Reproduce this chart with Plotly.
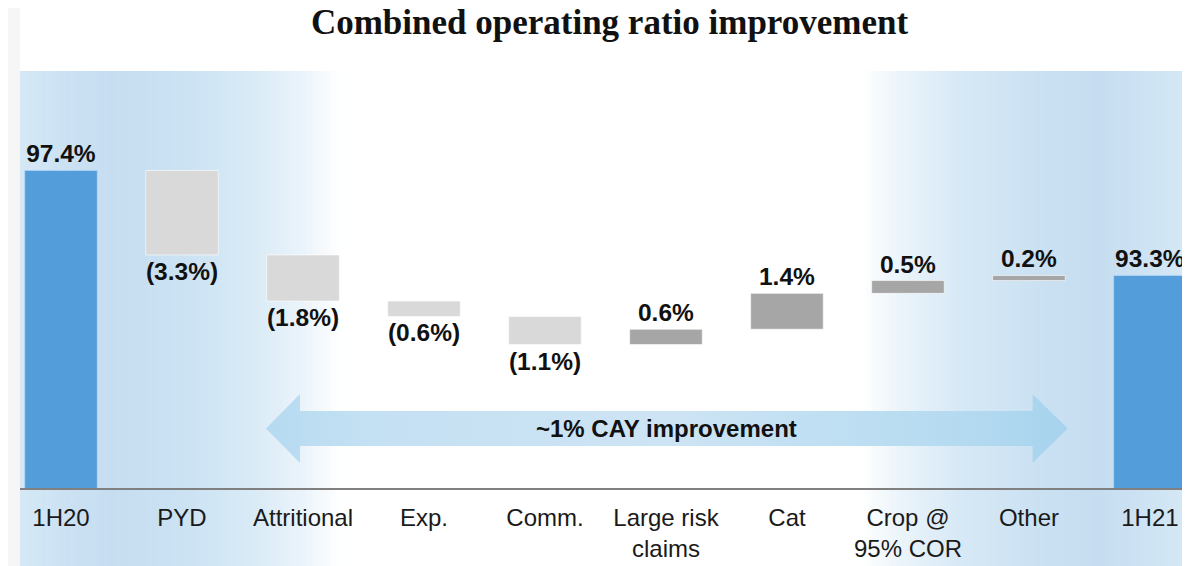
import plotly.graph_objects as go

# ---------------- data ----------------
categories = ["1H20", "PYD", "Attritional", "Exp.", "Comm.",
              "Large risk<br>claims", "Cat", "Crop @<br>95% COR", "Other", "1H21"]
values = [97.4, -3.3, -1.8, -0.6, -1.1, 0.6, 1.4, 0.5, 0.2, 93.3]
measures = ["absolute", "relative", "relative", "relative", "relative",
            "relative", "relative", "relative", "relative", "total"]
value_labels = ["97.4%", "(3.3%)", "(1.8%)", "(0.6%)", "(1.1%)",
                "0.6%", "1.4%", "0.5%", "0.2%", "93.3%"]
title_text = "Combined operating ratio improvement"
arrow_text = "~1% CAY improvement"

# ---------------- styling / layout constants ----------------
OFF = 8                      # browser body margin
W, H = 1190 - OFF, 566 - OFF
ML, MR, MT, MB = 20 - OFF, 0, 71 - OFF, 78
PW, PH = W - ML - MR, H - MT - MB
XR = [-0.339, 9.331]
YR = [85.0, 85.0 + PH / 25.61]

BLUE = "#539ddb"
DEC = "#d9d9d9"
INC = "#a6a6a6"

x_idx = list(range(len(categories)))

fig = go.Figure()


def hex2rgb(h):
    h = h.lstrip("#")
    return tuple(int(h[i:i + 2], 16) for i in (0, 2, 4))


def interp(stops, px):
    for (p0, c0), (p1, c1) in zip(stops, stops[1:]):
        if p0 <= px <= p1:
            t = (px - p0) / (p1 - p0) if p1 > p0 else 0
            a, b = hex2rgb(c0), hex2rgb(c1)
            return "rgb(%d,%d,%d)" % tuple(round(a[i] + (b[i] - a[i]) * t) for i in range(3))
    return stops[-1][1]


# stops in reference-page pixels
left_stops = [(20, "#d5e8f5"), (60, "#cce2f3"), (110, "#c6ddf1"), (180, "#cbe2f3"),
              (250, "#d8eaf6"), (300, "#eaf3fa"), (342, "#ffffff")]
right_stops = [(860, "#ffffff"), (900, "#ebf4fa"), (960, "#d7e9f6"), (1040, "#cae1f2"),
               (1100, "#c6ddf1"), (1190, "#d5e8f5")]

shapes = []
ybot = -MB / PH
for stops in (left_stops, right_stops):
    a, b = stops[0][0], stops[-1][0]
    n = int((b - a) / 3)
    step = (b - a) / n
    for i in range(n):
        x0 = a + i * step
        x1 = x0 + step + 0.6
        col = interp(stops, x0 + step / 2)
        shapes.append(dict(type="rect", xref="paper", yref="paper",
                           x0=(x0 - OFF - ML) / PW, x1=(x1 - OFF - ML) / PW, y0=ybot, y1=1,
                           fillcolor=col, line=dict(width=0), layer="below"))

# grey left page margin
shapes.append(dict(type="rect", xref="paper", yref="paper",
                   x0=-ML / PW, x1=0, y0=ybot, y1=1 + MT / PH,
                   fillcolor="#f6f6f6", line=dict(width=0), layer="below"))

# double-headed arrow (annotation geometry in data units)
ax_tip_l, ax_base_l, ax_base_r, ax_tip_r = 1.694, 1.975, 8.03, 8.32
ay_body_top, ay_body_bot, ay_head_top, ay_head_bot = 88.01, 86.64, 88.67, 85.98
ay_mid = (ay_body_top + ay_body_bot) / 2
arrow_x = [ax_tip_l, ax_base_l, ax_base_l, ax_base_r, ax_base_r, ax_tip_r,
           ax_base_r, ax_base_r, ax_base_l, ax_base_l, ax_tip_l]
arrow_y = [ay_mid, ay_head_top, ay_body_top, ay_body_top, ay_head_top, ay_mid,
           ay_head_bot, ay_body_bot, ay_body_bot, ay_head_bot, ay_mid]
fig.add_trace(go.Scatter(
    x=arrow_x, y=arrow_y, mode="lines", fill="toself",
    line=dict(width=0, color="rgba(0,0,0,0)"),
    fillgradient=dict(type="horizontal",
                      colorscale=[[0, "#b5daf1"], [0.12, "#c4e0f3"], [0.5, "#cde4f4"],
                                  [0.85, "#b6dbf1"], [1, "#a7d3ee"]]),
    hoverinfo="skip", showlegend=False))

fig.add_trace(go.Waterfall(
    x=x_idx, y=values, measure=measures,
    text=value_labels, texttemplate="<b>%{text}</b>", textposition="outside",
    textfont=dict(family="Liberation Sans, Arial", size=24.5, color="#111111"),
    increasing=dict(marker=dict(color=INC, line=dict(color="rgba(255,255,255,0.6)", width=1))),
    decreasing=dict(marker=dict(color=DEC, line=dict(color="rgba(255,255,255,0.6)", width=1))),
    totals=dict(marker=dict(color=BLUE, line=dict(color="rgba(180,215,245,0.8)", width=1))),
    connector=dict(visible=False),
    cliponaxis=False, hoverinfo="skip", showlegend=False))

fig.add_annotation(x=(ax_tip_l + ax_tip_r) / 2, y=ay_mid, xref="x", yref="y",
                   text=f"<b>{arrow_text}</b>", showarrow=False,
                   font=dict(family="Liberation Sans, Arial", size=24, color="#111111"))

fig.update_layout(
    width=W, height=H,
    margin=dict(l=ML, r=MR, t=MT, b=MB),
    paper_bgcolor="white", plot_bgcolor="rgba(0,0,0,0)",
    waterfallgap=0.4,
    shapes=shapes,
    title=dict(text=f"<b>{title_text}</b>", x=(609.5 - OFF) / W, xanchor="center",
               y=1 - 14 / H, yanchor="middle", yref="container",
               font=dict(family="Liberation Serif, serif", size=35, color="#111111")),
    xaxis=dict(range=XR, tickmode="array", tickvals=x_idx, ticktext=categories,
               showgrid=False, zeroline=False, showline=True, linecolor="#808080",
               linewidth=2, ticks="", ticklabelstandoff=7,
               tickfont=dict(family="Liberation Sans, Arial", size=24, color="#1a1a1a")),
    yaxis=dict(range=YR, visible=False, showgrid=False, zeroline=False),
)

fig.write_html("out.html")
